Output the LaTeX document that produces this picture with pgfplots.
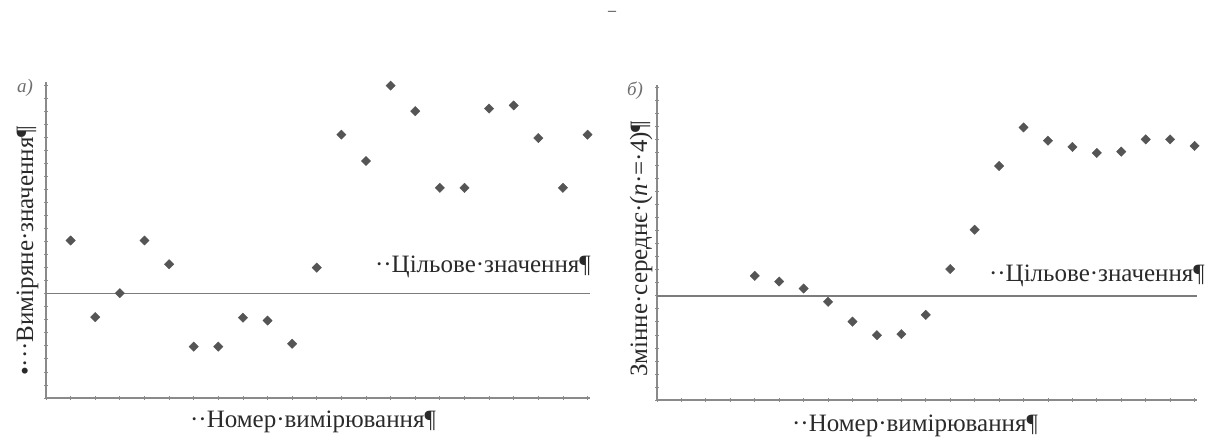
\documentclass[border=0pt]{standalone}
\usepackage{pgfplots}
\pgfplotsset{compat=1.18}
\usepackage{fontspec}
\setmainfont{Liberation Serif}
\definecolor{mk}{HTML}{555555}
\definecolor{ax}{HTML}{8A8A8A}
\definecolor{tx}{HTML}{2A2A2A}
\pgfplotsset{
  cc/.style={
    scale only axis,
    axis x line=bottom, axis y line=left,
    axis line style={-, ax, line width=1.2bp},
    xmin=0, xmax=22.1, ymin=-4,
    xtick={0,...,22}, xticklabels={},
    ytick={-4,-3.5,...,8}, yticklabels={},
    tick style={ax, line width=0.8bp},
    major tick length=4bp, tick align=center,
    clip=false,
  },
  pts/.style={only marks, mark=square*, mark size=3.3bp, color=mk,
    every mark/.append style={rotate=45}},
}
\begin{document}
\begin{tikzpicture}[x=1bp,y=1bp]
\path[use as bounding box] (0,0) rectangle (1213,445);
% left panel
\begin{axis}[cc, at={(46bp,47bp)}, anchor=south west, width=544bp, height=316bp, ymax=8.12]
\addplot[ax!90!black, line width=1.3bp] coordinates {(0,0) (22.1,0)};
\addplot[pts] coordinates {
(1,2.04) (2,-0.90) (3,0.02) (4,2.04) (5,1.13) (6,-2.03) (7,-2.03) (8,-0.92)
(9,-1.03) (10,-1.92) (11,1.0) (12,6.1) (13,5.09) (14,7.98) (15,7.0) (16,4.06)
(17,4.06) (18,7.1) (19,7.22) (20,5.97) (21,4.06) (22,6.1)};
\end{axis}
% right panel
\begin{axis}[cc, at={(657bp,45bp)}, anchor=south west, width=540bp, height=315bp, ymax=8.1]
\addplot[ax!90!black, line width=1.3bp] coordinates {(0,0) (22.1,0)};
\addplot[pts] coordinates {
(4,0.77) (5,0.55) (6,0.28) (7,-0.23) (8,-0.99) (9,-1.51) (10,-1.47) (11,-0.73)
(12,1.03) (13,2.54) (14,4.99) (15,6.47) (16,5.96) (17,5.72) (18,5.49) (19,5.54)
(20,6.01) (21,6.01) (22,5.76)};
\end{axis}
% texts
\begin{scope}[every node/.style={text=tx, inner sep=0pt, font=\fontsize{25bp}{27bp}\selectfont}]
\node[anchor=base east] at (591,172) {··Цільове·значення¶};
\node[anchor=base east] at (1205,163) {··Цільове·значення¶};
\node[anchor=base] at (313,17) {··Номер·вимірювання¶};
\node[anchor=base] at (915,13) {··Номер·вимірювання¶};
\node[anchor=base west, rotate=90] at (33,69) {•···Виміряне·значення¶};
\node[anchor=base west, rotate=90] at (647,68) {Змінне·середнє·(\textit{n}·=·4)¶};
\node[font=\itshape\fontsize{19bp}{21bp}\selectfont, text=ax!80!black] at (25,357) {а)};
\node[font=\itshape\fontsize{19bp}{21bp}\selectfont, text=ax!80!black] at (635,354) {б)};
\node[font=\fontsize{16bp}{18bp}\selectfont] at (612,432) {–};
\end{scope}
\end{tikzpicture}
\end{document}
